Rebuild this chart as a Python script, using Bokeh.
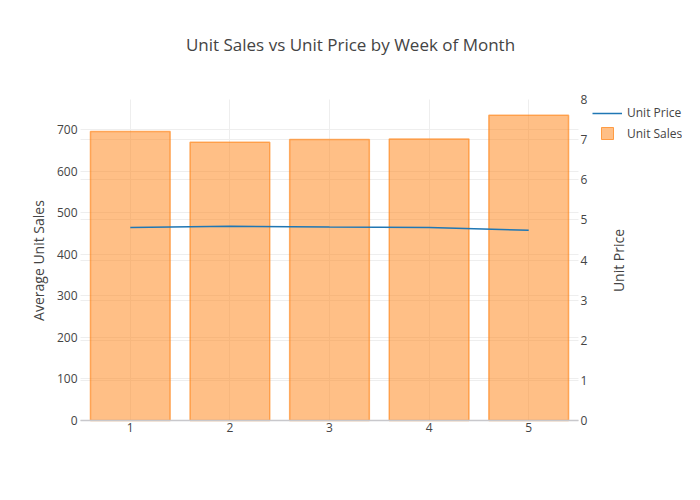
from bokeh.plotting import figure
from bokeh.models import (LinearAxis, Range1d, FixedTicker, Grid, Legend, LegendItem,
                          Label, ColumnDataSource)
from bokeh.embed import file_html
from bokeh.resources import INLINE

weeks = [1, 2, 3, 4, 5]
unit_sales = [695, 669, 676, 677, 734]
unit_price = [4.81, 4.84, 4.82, 4.81, 4.74]
left_ticks = [0, 100, 200, 300, 400, 500, 600, 700]
right_ticks = [0, 1, 2, 3, 4, 5, 6, 7, 8]

FONT = "Open Sans"
TXT = "#444444"
GRID = "#eeeeee"

# page geometry (pixels): the frame covers nearly the whole canvas so that
# title, legend and axis titles are drawn inside it without clipping
W, H = 700, 500
FL, FR, FT, FB = 30, 682, 0, 480          # frame edges
PL, PR, PT, PB = 80, 578, 99, 420          # plot area edges
X0, X1 = 0.5, 5.5
YL0, YL1 = 0, 772
YR0, YR1 = 0, 8

def span(a0, a1, p0, p1, f0, f1):
    k = (a1 - a0) / (p1 - p0)
    return a0 - (p0 - f0) * k, a1 + (f1 - p1) * k

xs, xe = span(X0, X1, PL, PR, FL, FR)
ys, ye = span(YL0, YL1, H - PB, H - PT, H - FB, H - FT)
rs, re_ = span(YR0, YR1, H - PB, H - PT, H - FB, H - FT)

p = figure(output_backend="svg", toolbar_location=None,
           frame_width=FR - FL, frame_height=FB - FT,
           min_border_left=FL, min_border_top=FT, min_border_right=W - FR,
           min_border_bottom=H - FB,
           x_range=Range1d(xs, xe), y_range=Range1d(ys, ye),
           background_fill_color="white", border_fill_color="white")
try:
    p.title = None
except Exception:
    p.title.text = ""
p.outline_line_color = None
p.extra_y_ranges = {"right": Range1d(rs, re_)}

src = ColumnDataSource(dict(week=weeks, sales=unit_sales, price=unit_price))

bars = p.vbar(x="week", top="sales", width=0.8, source=src,
              fill_color="#ff7f0e", fill_alpha=0.5,
              line_color="#ff7f0e", line_alpha=0.6, line_width=1.5)
line = p.line(x="week", y="price", source=src, y_range_name="right",
              line_color="#1f77b4", line_width=1.5)
# zero-size markers: only used to draw the square legend swatch
swatch = p.scatter(x="week", y="sales", source=src, marker="square", size=0,
                   fill_color="#ff7f0e", fill_alpha=0.5,
                   line_color="#ff7f0e", line_alpha=0.7, line_width=1)

xaxis = p.xaxis[0]
yaxis = p.yaxis[0]
xaxis.ticker = FixedTicker(ticks=weeks)
xaxis.bounds = (X0, X1)
xaxis.fixed_location = YL0
yaxis.ticker = FixedTicker(ticks=left_ticks)
yaxis.fixed_location = X0
right_axis = LinearAxis(y_range_name="right", ticker=FixedTicker(ticks=right_ticks),
                        fixed_location=X1)
p.add_layout(right_axis, "right")

for ax in [xaxis, yaxis, right_axis]:
    ax.major_tick_line_color = None
    ax.minor_tick_line_color = None
    ax.major_tick_out = 0
    ax.major_tick_in = 0
    ax.minor_tick_out = 0
    ax.minor_tick_in = 0
    ax.major_label_text_font = FONT
    ax.major_label_text_font_size = "12px"
    ax.major_label_text_color = TXT
    ax.axis_line_color = None
xaxis.axis_line_color = "#c8c8cc"
xaxis.axis_line_width = 1.5
xaxis.major_label_standoff = 2
yaxis.major_label_standoff = 3
right_axis.major_label_standoff = 2

p.xgrid.grid_line_color = GRID
p.xgrid.cross_bounds = (YL0, YL1)
p.ygrid.grid_line_color = GRID
p.ygrid.cross_bounds = (X0, X1)
# no gridline on the top edge of the right-axis range
rgrid = Grid(dimension=1, y_range_name="right",
             ticker=FixedTicker(ticks=[t for t in right_ticks if t < YR1]),
             grid_line_color=GRID, grid_line_width=1, cross_bounds=(X0, X1))
p.add_layout(rgrid)
p.renderers.insert(0, p.renderers.pop(p.renderers.index(bars)))

common = dict(orientation="vertical", label_text_font=FONT, label_text_font_size="12px",
              label_text_color=TXT, glyph_width=30, padding=0, margin=0, spacing=0,
              label_standoff=5, border_line_color=None, background_fill_alpha=0)
leg_price = Legend(items=[LegendItem(label="Unit Price", renderers=[line])],
                   location=(592 - FL, FB - 107 - 14), glyph_height=14, label_height=14,
                   **common)
leg_sales = Legend(items=[LegendItem(label="Unit Sales", renderers=[swatch])],
                   location=(592 - FL, FB - 118 - 30), glyph_height=30, label_height=30,
                   **common)
p.add_layout(leg_price, "center")
p.add_layout(leg_sales, "center")

def text_at(px, py, text, size, angle=0):
    p.add_layout(Label(x=px - FL, y=FB - py, x_units="screen", y_units="screen",
                       text=text, angle=angle, angle_units="deg",
                       text_font=FONT, text_font_size=size, text_color=TXT,
                       text_align="center", text_baseline="middle"))

text_at(350, 44, "Unit Sales vs Unit Price by Week of Month", "17px")
text_at(38, 260, "Average Unit Sales", "14px", 90)
text_at(618, 260, "Unit Price", "14px", 90)

open("out.html", "w").write(file_html(p, INLINE))
